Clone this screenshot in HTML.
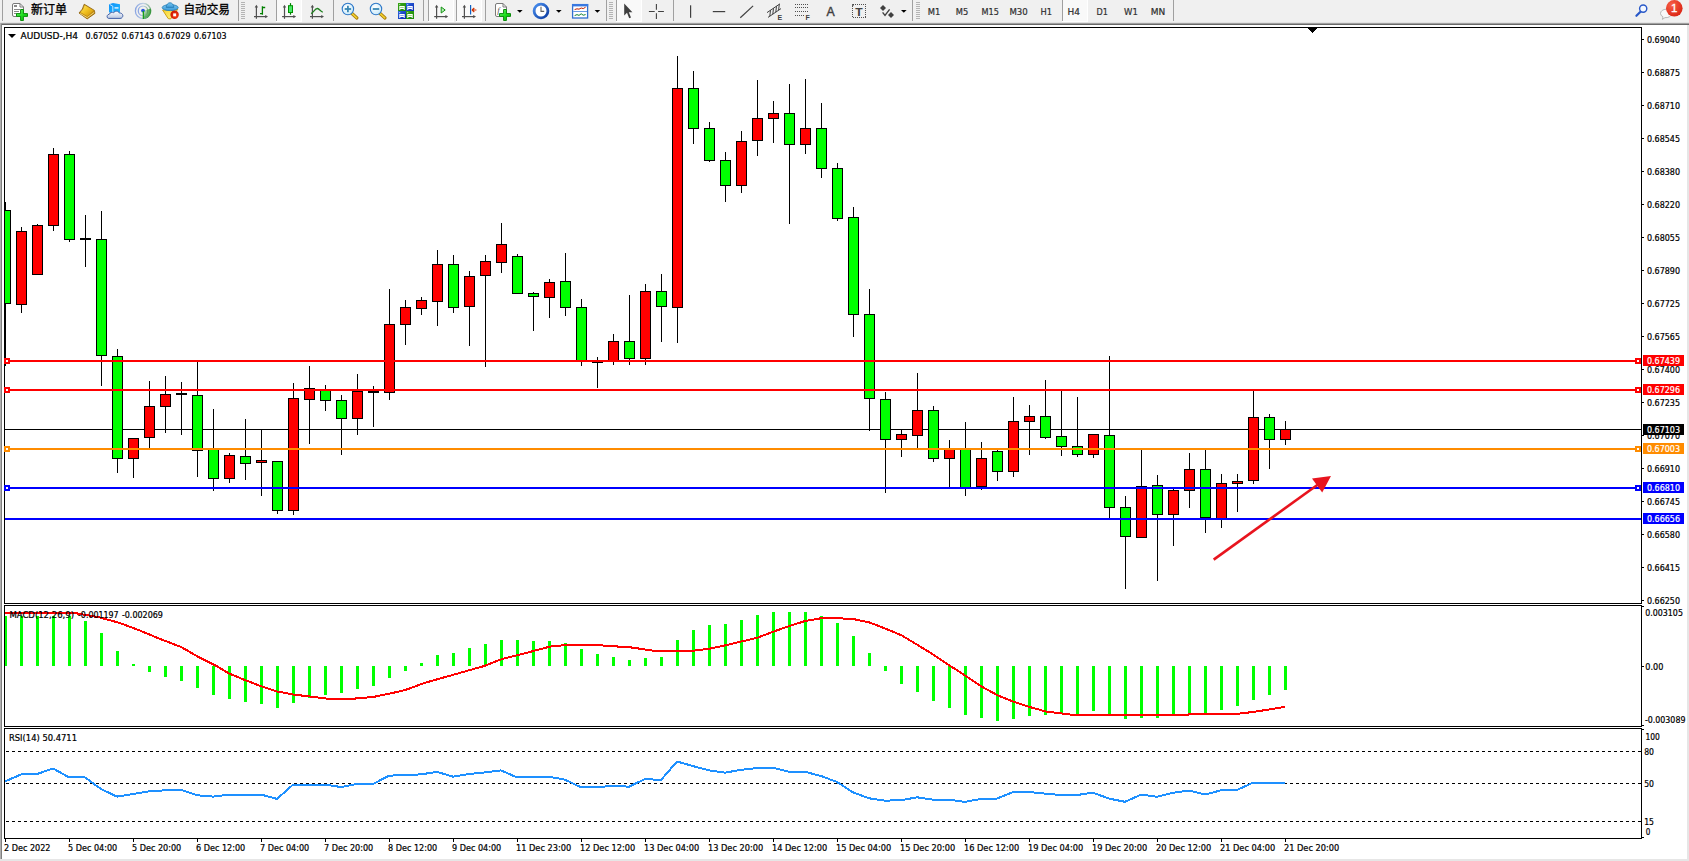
<!DOCTYPE html>
<html lang="zh-CN"><head><meta charset="utf-8"><title>AUDUSD-,H4</title>
<style>
html,body{margin:0;padding:0;background:#fff;width:1689px;height:861px;overflow:hidden}
svg{display:block;position:absolute;left:0;top:0}
text{white-space:pre}
</style></head><body>
<svg width="1689" height="861" viewBox="0 0 1689 861">
<g id="frame" shape-rendering="crispEdges">
<rect x="0" y="0" width="1689" height="861" fill="#fff"/>
<rect x="0" y="0" width="1689" height="23" fill="#f0f0f0"/>
<rect x="0" y="22" width="1689" height="1" fill="#e3e3e3"/>
<rect x="0" y="23" width="1689" height="1" fill="#a0a0a0"/>
<rect x="0" y="24" width="1689" height="1" fill="#696969"/>
<rect x="0" y="23" width="1" height="837" fill="#b0b0b0"/>
<rect x="1" y="24" width="1" height="836" fill="#808080"/>
<rect x="1687" y="25" width="2" height="836" fill="#e6e6e6"/>
<rect x="0" y="859" width="1689" height="2" fill="#e6e6e6"/>
</g>
<g id="panels" shape-rendering="crispEdges">
<rect x="4" y="27" width="1638" height="1" fill="#000"/>
<rect x="4" y="27" width="1" height="577" fill="#000"/>
<rect x="4" y="603" width="1638" height="1" fill="#000"/>
<rect x="1641" y="27" width="1" height="577" fill="#000"/>
<rect x="4" y="605" width="1638" height="1" fill="#000"/>
<rect x="4" y="605" width="1" height="122" fill="#000"/>
<rect x="4" y="726" width="1638" height="1" fill="#000"/>
<rect x="1641" y="605" width="1" height="122" fill="#000"/>
<rect x="4" y="728" width="1638" height="1" fill="#000"/>
<rect x="4" y="728" width="1" height="111" fill="#000"/>
<rect x="4" y="838" width="1638" height="1" fill="#000"/>
<rect x="1641" y="728" width="1" height="111" fill="#000"/>
</g>
<g id="main" shape-rendering="crispEdges">
<polygon points="1308,28 1317,28 1312.5,33" fill="#000"/>
<rect x="5" y="429" width="1636" height="1" fill="#000"/>
<rect x="5" y="202" width="1" height="164" fill="#000"/>
<rect x="5" y="210" width="6" height="94" fill="#000"/>
<rect x="5" y="211" width="5" height="92" fill="#00ff00"/>
<rect x="21" y="227" width="1" height="86" fill="#000"/>
<rect x="16" y="231" width="11" height="74" fill="#000"/>
<rect x="17" y="232" width="9" height="72" fill="#ff0000"/>
<rect x="37" y="224" width="1" height="51" fill="#000"/>
<rect x="32" y="225" width="11" height="50" fill="#000"/>
<rect x="33" y="226" width="9" height="48" fill="#ff0000"/>
<rect x="53" y="148" width="1" height="83" fill="#000"/>
<rect x="48" y="154" width="11" height="72" fill="#000"/>
<rect x="49" y="155" width="9" height="70" fill="#ff0000"/>
<rect x="69" y="151" width="1" height="91" fill="#000"/>
<rect x="64" y="154" width="11" height="86" fill="#000"/>
<rect x="65" y="155" width="9" height="84" fill="#00ff00"/>
<rect x="85" y="215" width="1" height="52" fill="#000"/>
<rect x="80" y="238" width="11" height="2" fill="#000"/>
<rect x="101" y="211" width="1" height="175" fill="#000"/>
<rect x="96" y="239" width="11" height="117" fill="#000"/>
<rect x="97" y="240" width="9" height="115" fill="#00ff00"/>
<rect x="117" y="349" width="1" height="124" fill="#000"/>
<rect x="112" y="356" width="11" height="103" fill="#000"/>
<rect x="113" y="357" width="9" height="101" fill="#00ff00"/>
<rect x="133" y="438" width="1" height="40" fill="#000"/>
<rect x="128" y="438" width="11" height="21" fill="#000"/>
<rect x="129" y="439" width="9" height="19" fill="#ff0000"/>
<rect x="149" y="381" width="1" height="67" fill="#000"/>
<rect x="144" y="406" width="11" height="32" fill="#000"/>
<rect x="145" y="407" width="9" height="30" fill="#ff0000"/>
<rect x="165" y="376" width="1" height="57" fill="#000"/>
<rect x="160" y="394" width="11" height="13" fill="#000"/>
<rect x="161" y="395" width="9" height="11" fill="#ff0000"/>
<rect x="181" y="382" width="1" height="53" fill="#000"/>
<rect x="176" y="393" width="11" height="2" fill="#000"/>
<rect x="197" y="362" width="1" height="115" fill="#000"/>
<rect x="192" y="395" width="11" height="56" fill="#000"/>
<rect x="193" y="396" width="9" height="54" fill="#00ff00"/>
<rect x="213" y="409" width="1" height="82" fill="#000"/>
<rect x="208" y="449" width="11" height="30" fill="#000"/>
<rect x="209" y="450" width="9" height="28" fill="#00ff00"/>
<rect x="229" y="453" width="1" height="30" fill="#000"/>
<rect x="224" y="455" width="11" height="24" fill="#000"/>
<rect x="225" y="456" width="9" height="22" fill="#ff0000"/>
<rect x="245" y="419" width="1" height="61" fill="#000"/>
<rect x="240" y="456" width="11" height="8" fill="#000"/>
<rect x="241" y="457" width="9" height="6" fill="#00ff00"/>
<rect x="261" y="430" width="1" height="66" fill="#000"/>
<rect x="256" y="460" width="11" height="3" fill="#000"/>
<rect x="257" y="461" width="9" height="1" fill="#ff0000"/>
<rect x="277" y="461" width="1" height="53" fill="#000"/>
<rect x="272" y="461" width="11" height="50" fill="#000"/>
<rect x="273" y="462" width="9" height="48" fill="#00ff00"/>
<rect x="293" y="383" width="1" height="132" fill="#000"/>
<rect x="288" y="398" width="11" height="113" fill="#000"/>
<rect x="289" y="399" width="9" height="111" fill="#ff0000"/>
<rect x="309" y="366" width="1" height="78" fill="#000"/>
<rect x="304" y="388" width="11" height="12" fill="#000"/>
<rect x="305" y="389" width="9" height="10" fill="#ff0000"/>
<rect x="325" y="385" width="1" height="26" fill="#000"/>
<rect x="320" y="390" width="11" height="11" fill="#000"/>
<rect x="321" y="391" width="9" height="9" fill="#00ff00"/>
<rect x="341" y="395" width="1" height="60" fill="#000"/>
<rect x="336" y="400" width="11" height="19" fill="#000"/>
<rect x="337" y="401" width="9" height="17" fill="#00ff00"/>
<rect x="357" y="374" width="1" height="61" fill="#000"/>
<rect x="352" y="391" width="11" height="28" fill="#000"/>
<rect x="353" y="392" width="9" height="26" fill="#ff0000"/>
<rect x="373" y="386" width="1" height="41" fill="#000"/>
<rect x="368" y="391" width="11" height="2" fill="#000"/>
<rect x="389" y="289" width="1" height="111" fill="#000"/>
<rect x="384" y="324" width="11" height="69" fill="#000"/>
<rect x="385" y="325" width="9" height="67" fill="#ff0000"/>
<rect x="405" y="300" width="1" height="45" fill="#000"/>
<rect x="400" y="307" width="11" height="18" fill="#000"/>
<rect x="401" y="308" width="9" height="16" fill="#ff0000"/>
<rect x="421" y="297" width="1" height="18" fill="#000"/>
<rect x="416" y="300" width="11" height="9" fill="#000"/>
<rect x="417" y="301" width="9" height="7" fill="#ff0000"/>
<rect x="437" y="250" width="1" height="76" fill="#000"/>
<rect x="432" y="264" width="11" height="38" fill="#000"/>
<rect x="433" y="265" width="9" height="36" fill="#ff0000"/>
<rect x="453" y="255" width="1" height="58" fill="#000"/>
<rect x="448" y="264" width="11" height="44" fill="#000"/>
<rect x="449" y="265" width="9" height="42" fill="#00ff00"/>
<rect x="469" y="271" width="1" height="75" fill="#000"/>
<rect x="464" y="276" width="11" height="31" fill="#000"/>
<rect x="465" y="277" width="9" height="29" fill="#ff0000"/>
<rect x="485" y="255" width="1" height="112" fill="#000"/>
<rect x="480" y="261" width="11" height="15" fill="#000"/>
<rect x="481" y="262" width="9" height="13" fill="#ff0000"/>
<rect x="501" y="223" width="1" height="50" fill="#000"/>
<rect x="496" y="244" width="11" height="19" fill="#000"/>
<rect x="497" y="245" width="9" height="17" fill="#ff0000"/>
<rect x="517" y="254" width="1" height="40" fill="#000"/>
<rect x="512" y="256" width="11" height="38" fill="#000"/>
<rect x="513" y="257" width="9" height="36" fill="#00ff00"/>
<rect x="533" y="292" width="1" height="39" fill="#000"/>
<rect x="528" y="293" width="11" height="4" fill="#000"/>
<rect x="529" y="294" width="9" height="2" fill="#00ff00"/>
<rect x="549" y="279" width="1" height="39" fill="#000"/>
<rect x="544" y="282" width="11" height="16" fill="#000"/>
<rect x="545" y="283" width="9" height="14" fill="#ff0000"/>
<rect x="565" y="253" width="1" height="63" fill="#000"/>
<rect x="560" y="281" width="11" height="27" fill="#000"/>
<rect x="561" y="282" width="9" height="25" fill="#00ff00"/>
<rect x="581" y="299" width="1" height="67" fill="#000"/>
<rect x="576" y="307" width="11" height="54" fill="#000"/>
<rect x="577" y="308" width="9" height="52" fill="#00ff00"/>
<rect x="597" y="357" width="1" height="31" fill="#000"/>
<rect x="592" y="362" width="11" height="1" fill="#000"/>
<rect x="613" y="334" width="1" height="31" fill="#000"/>
<rect x="608" y="341" width="11" height="20" fill="#000"/>
<rect x="609" y="342" width="9" height="18" fill="#ff0000"/>
<rect x="629" y="295" width="1" height="70" fill="#000"/>
<rect x="624" y="341" width="11" height="18" fill="#000"/>
<rect x="625" y="342" width="9" height="16" fill="#00ff00"/>
<rect x="645" y="284" width="1" height="81" fill="#000"/>
<rect x="640" y="291" width="11" height="68" fill="#000"/>
<rect x="641" y="292" width="9" height="66" fill="#ff0000"/>
<rect x="661" y="274" width="1" height="68" fill="#000"/>
<rect x="656" y="291" width="11" height="16" fill="#000"/>
<rect x="657" y="292" width="9" height="14" fill="#00ff00"/>
<rect x="677" y="56" width="1" height="287" fill="#000"/>
<rect x="672" y="88" width="11" height="220" fill="#000"/>
<rect x="673" y="89" width="9" height="218" fill="#ff0000"/>
<rect x="693" y="71" width="1" height="73" fill="#000"/>
<rect x="688" y="88" width="11" height="41" fill="#000"/>
<rect x="689" y="89" width="9" height="39" fill="#00ff00"/>
<rect x="709" y="122" width="1" height="40" fill="#000"/>
<rect x="704" y="128" width="11" height="33" fill="#000"/>
<rect x="705" y="129" width="9" height="31" fill="#00ff00"/>
<rect x="725" y="152" width="1" height="50" fill="#000"/>
<rect x="720" y="160" width="11" height="26" fill="#000"/>
<rect x="721" y="161" width="9" height="24" fill="#00ff00"/>
<rect x="741" y="131" width="1" height="62" fill="#000"/>
<rect x="736" y="141" width="11" height="45" fill="#000"/>
<rect x="737" y="142" width="9" height="43" fill="#ff0000"/>
<rect x="757" y="80" width="1" height="76" fill="#000"/>
<rect x="752" y="118" width="11" height="23" fill="#000"/>
<rect x="753" y="119" width="9" height="21" fill="#ff0000"/>
<rect x="773" y="101" width="1" height="42" fill="#000"/>
<rect x="768" y="113" width="11" height="6" fill="#000"/>
<rect x="769" y="114" width="9" height="4" fill="#ff0000"/>
<rect x="789" y="84" width="1" height="140" fill="#000"/>
<rect x="784" y="113" width="11" height="32" fill="#000"/>
<rect x="785" y="114" width="9" height="30" fill="#00ff00"/>
<rect x="805" y="79" width="1" height="75" fill="#000"/>
<rect x="800" y="128" width="11" height="17" fill="#000"/>
<rect x="801" y="129" width="9" height="15" fill="#ff0000"/>
<rect x="821" y="103" width="1" height="75" fill="#000"/>
<rect x="816" y="128" width="11" height="41" fill="#000"/>
<rect x="817" y="129" width="9" height="39" fill="#00ff00"/>
<rect x="837" y="163" width="1" height="58" fill="#000"/>
<rect x="832" y="168" width="11" height="51" fill="#000"/>
<rect x="833" y="169" width="9" height="49" fill="#00ff00"/>
<rect x="853" y="207" width="1" height="130" fill="#000"/>
<rect x="848" y="217" width="11" height="98" fill="#000"/>
<rect x="849" y="218" width="9" height="96" fill="#00ff00"/>
<rect x="869" y="289" width="1" height="142" fill="#000"/>
<rect x="864" y="314" width="11" height="85" fill="#000"/>
<rect x="865" y="315" width="9" height="83" fill="#00ff00"/>
<rect x="885" y="392" width="1" height="101" fill="#000"/>
<rect x="880" y="399" width="11" height="41" fill="#000"/>
<rect x="881" y="400" width="9" height="39" fill="#00ff00"/>
<rect x="901" y="430" width="1" height="27" fill="#000"/>
<rect x="896" y="434" width="11" height="6" fill="#000"/>
<rect x="897" y="435" width="9" height="4" fill="#ff0000"/>
<rect x="917" y="373" width="1" height="75" fill="#000"/>
<rect x="912" y="410" width="11" height="26" fill="#000"/>
<rect x="913" y="411" width="9" height="24" fill="#ff0000"/>
<rect x="933" y="406" width="1" height="56" fill="#000"/>
<rect x="928" y="410" width="11" height="49" fill="#000"/>
<rect x="929" y="411" width="9" height="47" fill="#00ff00"/>
<rect x="949" y="440" width="1" height="47" fill="#000"/>
<rect x="944" y="449" width="11" height="10" fill="#000"/>
<rect x="945" y="450" width="9" height="8" fill="#ff0000"/>
<rect x="965" y="422" width="1" height="74" fill="#000"/>
<rect x="960" y="448" width="11" height="40" fill="#000"/>
<rect x="961" y="449" width="9" height="38" fill="#00ff00"/>
<rect x="981" y="442" width="1" height="48" fill="#000"/>
<rect x="976" y="458" width="11" height="29" fill="#000"/>
<rect x="977" y="459" width="9" height="27" fill="#ff0000"/>
<rect x="997" y="450" width="1" height="31" fill="#000"/>
<rect x="992" y="451" width="11" height="21" fill="#000"/>
<rect x="993" y="452" width="9" height="19" fill="#00ff00"/>
<rect x="1013" y="397" width="1" height="80" fill="#000"/>
<rect x="1008" y="421" width="11" height="51" fill="#000"/>
<rect x="1009" y="422" width="9" height="49" fill="#ff0000"/>
<rect x="1029" y="405" width="1" height="50" fill="#000"/>
<rect x="1024" y="416" width="11" height="6" fill="#000"/>
<rect x="1025" y="417" width="9" height="4" fill="#ff0000"/>
<rect x="1045" y="380" width="1" height="59" fill="#000"/>
<rect x="1040" y="416" width="11" height="22" fill="#000"/>
<rect x="1041" y="417" width="9" height="20" fill="#00ff00"/>
<rect x="1061" y="391" width="1" height="65" fill="#000"/>
<rect x="1056" y="436" width="11" height="11" fill="#000"/>
<rect x="1057" y="437" width="9" height="9" fill="#00ff00"/>
<rect x="1077" y="397" width="1" height="60" fill="#000"/>
<rect x="1072" y="446" width="11" height="9" fill="#000"/>
<rect x="1073" y="447" width="9" height="7" fill="#00ff00"/>
<rect x="1093" y="434" width="1" height="24" fill="#000"/>
<rect x="1088" y="434" width="11" height="21" fill="#000"/>
<rect x="1089" y="435" width="9" height="19" fill="#ff0000"/>
<rect x="1109" y="356" width="1" height="162" fill="#000"/>
<rect x="1104" y="435" width="11" height="73" fill="#000"/>
<rect x="1105" y="436" width="9" height="71" fill="#00ff00"/>
<rect x="1125" y="496" width="1" height="93" fill="#000"/>
<rect x="1120" y="507" width="11" height="30" fill="#000"/>
<rect x="1121" y="508" width="9" height="28" fill="#00ff00"/>
<rect x="1141" y="450" width="1" height="88" fill="#000"/>
<rect x="1136" y="486" width="11" height="52" fill="#000"/>
<rect x="1137" y="487" width="9" height="50" fill="#ff0000"/>
<rect x="1157" y="475" width="1" height="106" fill="#000"/>
<rect x="1152" y="485" width="11" height="30" fill="#000"/>
<rect x="1153" y="486" width="9" height="28" fill="#00ff00"/>
<rect x="1173" y="489" width="1" height="57" fill="#000"/>
<rect x="1168" y="490" width="11" height="25" fill="#000"/>
<rect x="1169" y="491" width="9" height="23" fill="#ff0000"/>
<rect x="1189" y="453" width="1" height="55" fill="#000"/>
<rect x="1184" y="469" width="11" height="22" fill="#000"/>
<rect x="1185" y="470" width="9" height="20" fill="#ff0000"/>
<rect x="1205" y="450" width="1" height="83" fill="#000"/>
<rect x="1200" y="469" width="11" height="49" fill="#000"/>
<rect x="1201" y="470" width="9" height="47" fill="#00ff00"/>
<rect x="1221" y="474" width="1" height="54" fill="#000"/>
<rect x="1216" y="483" width="11" height="36" fill="#000"/>
<rect x="1217" y="484" width="9" height="34" fill="#ff0000"/>
<rect x="1237" y="474" width="1" height="38" fill="#000"/>
<rect x="1232" y="481" width="11" height="3" fill="#000"/>
<rect x="1233" y="482" width="9" height="1" fill="#ff0000"/>
<rect x="1253" y="391" width="1" height="93" fill="#000"/>
<rect x="1248" y="417" width="11" height="64" fill="#000"/>
<rect x="1249" y="418" width="9" height="62" fill="#ff0000"/>
<rect x="1269" y="414" width="1" height="55" fill="#000"/>
<rect x="1264" y="417" width="11" height="23" fill="#000"/>
<rect x="1265" y="418" width="9" height="21" fill="#00ff00"/>
<rect x="1285" y="421" width="1" height="24" fill="#000"/>
<rect x="1280" y="429" width="11" height="11" fill="#000"/>
<rect x="1281" y="430" width="9" height="9" fill="#ff0000"/>
</g>
<g id="hlines" shape-rendering="crispEdges">
<rect x="5" y="360" width="1636" height="2" fill="#ff0000"/>
<rect x="4" y="358" width="6" height="6" fill="#ff0000"/>
<rect x="6" y="360" width="2" height="2" fill="#fff"/>
<rect x="1635" y="358" width="6" height="6" fill="#ff0000"/>
<rect x="1637" y="360" width="2" height="2" fill="#fff"/>
<rect x="5" y="389" width="1636" height="2" fill="#ff0000"/>
<rect x="4" y="387" width="6" height="6" fill="#ff0000"/>
<rect x="6" y="389" width="2" height="2" fill="#fff"/>
<rect x="1635" y="387" width="6" height="6" fill="#ff0000"/>
<rect x="1637" y="389" width="2" height="2" fill="#fff"/>
<rect x="5" y="448" width="1636" height="2" fill="#ff8c00"/>
<rect x="4" y="446" width="6" height="6" fill="#ff8c00"/>
<rect x="6" y="448" width="2" height="2" fill="#fff"/>
<rect x="1635" y="446" width="6" height="6" fill="#ff8c00"/>
<rect x="1637" y="448" width="2" height="2" fill="#fff"/>
<rect x="5" y="487" width="1636" height="2" fill="#0000ff"/>
<rect x="4" y="485" width="6" height="6" fill="#0000ff"/>
<rect x="6" y="487" width="2" height="2" fill="#fff"/>
<rect x="1635" y="485" width="6" height="6" fill="#0000ff"/>
<rect x="1637" y="487" width="2" height="2" fill="#fff"/>
<rect x="5" y="518" width="1636" height="2" fill="#0000ff"/>
</g>
<g id="arrow"><line x1="1213.7" y1="559.6" x2="1318" y2="484.5" stroke="#e8141e" stroke-width="2.6"/><polygon points="1331,476 1312,478.6 1322.2,492.5" fill="#e8141e"/></g>
<g id="paxis" font-family="DejaVu Sans Condensed, Liberation Sans, sans-serif">
<rect x="1642" y="39" width="2" height="1" fill="#000" shape-rendering="crispEdges"/>
<text x="1647" y="43" font-size="9.4" fill="#000" stroke="#000" stroke-width="0.22" textLength="33" lengthAdjust="spacingAndGlyphs">0.69040</text>
<rect x="1642" y="72" width="2" height="1" fill="#000" shape-rendering="crispEdges"/>
<text x="1647" y="76" font-size="9.4" fill="#000" stroke="#000" stroke-width="0.22" textLength="33" lengthAdjust="spacingAndGlyphs">0.68875</text>
<rect x="1642" y="105" width="2" height="1" fill="#000" shape-rendering="crispEdges"/>
<text x="1647" y="109" font-size="9.4" fill="#000" stroke="#000" stroke-width="0.22" textLength="33" lengthAdjust="spacingAndGlyphs">0.68710</text>
<rect x="1642" y="138" width="2" height="1" fill="#000" shape-rendering="crispEdges"/>
<text x="1647" y="142" font-size="9.4" fill="#000" stroke="#000" stroke-width="0.22" textLength="33" lengthAdjust="spacingAndGlyphs">0.68545</text>
<rect x="1642" y="171" width="2" height="1" fill="#000" shape-rendering="crispEdges"/>
<text x="1647" y="175" font-size="9.4" fill="#000" stroke="#000" stroke-width="0.22" textLength="33" lengthAdjust="spacingAndGlyphs">0.68380</text>
<rect x="1642" y="204" width="2" height="1" fill="#000" shape-rendering="crispEdges"/>
<text x="1647" y="208" font-size="9.4" fill="#000" stroke="#000" stroke-width="0.22" textLength="33" lengthAdjust="spacingAndGlyphs">0.68220</text>
<rect x="1642" y="237" width="2" height="1" fill="#000" shape-rendering="crispEdges"/>
<text x="1647" y="241" font-size="9.4" fill="#000" stroke="#000" stroke-width="0.22" textLength="33" lengthAdjust="spacingAndGlyphs">0.68055</text>
<rect x="1642" y="270" width="2" height="1" fill="#000" shape-rendering="crispEdges"/>
<text x="1647" y="274" font-size="9.4" fill="#000" stroke="#000" stroke-width="0.22" textLength="33" lengthAdjust="spacingAndGlyphs">0.67890</text>
<rect x="1642" y="303" width="2" height="1" fill="#000" shape-rendering="crispEdges"/>
<text x="1647" y="307" font-size="9.4" fill="#000" stroke="#000" stroke-width="0.22" textLength="33" lengthAdjust="spacingAndGlyphs">0.67725</text>
<rect x="1642" y="336" width="2" height="1" fill="#000" shape-rendering="crispEdges"/>
<text x="1647" y="340" font-size="9.4" fill="#000" stroke="#000" stroke-width="0.22" textLength="33" lengthAdjust="spacingAndGlyphs">0.67565</text>
<rect x="1642" y="369" width="2" height="1" fill="#000" shape-rendering="crispEdges"/>
<text x="1647" y="373" font-size="9.4" fill="#000" stroke="#000" stroke-width="0.22" textLength="33" lengthAdjust="spacingAndGlyphs">0.67400</text>
<rect x="1642" y="402" width="2" height="1" fill="#000" shape-rendering="crispEdges"/>
<text x="1647" y="406" font-size="9.4" fill="#000" stroke="#000" stroke-width="0.22" textLength="33" lengthAdjust="spacingAndGlyphs">0.67235</text>
<rect x="1642" y="435" width="2" height="1" fill="#000" shape-rendering="crispEdges"/>
<text x="1647" y="439" font-size="9.4" fill="#000" stroke="#000" stroke-width="0.22" textLength="33" lengthAdjust="spacingAndGlyphs">0.67070</text>
<rect x="1642" y="468" width="2" height="1" fill="#000" shape-rendering="crispEdges"/>
<text x="1647" y="472" font-size="9.4" fill="#000" stroke="#000" stroke-width="0.22" textLength="33" lengthAdjust="spacingAndGlyphs">0.66910</text>
<rect x="1642" y="501" width="2" height="1" fill="#000" shape-rendering="crispEdges"/>
<text x="1647" y="505" font-size="9.4" fill="#000" stroke="#000" stroke-width="0.22" textLength="33" lengthAdjust="spacingAndGlyphs">0.66745</text>
<rect x="1642" y="534" width="2" height="1" fill="#000" shape-rendering="crispEdges"/>
<text x="1647" y="538" font-size="9.4" fill="#000" stroke="#000" stroke-width="0.22" textLength="33" lengthAdjust="spacingAndGlyphs">0.66580</text>
<rect x="1642" y="567" width="2" height="1" fill="#000" shape-rendering="crispEdges"/>
<text x="1647" y="571" font-size="9.4" fill="#000" stroke="#000" stroke-width="0.22" textLength="33" lengthAdjust="spacingAndGlyphs">0.66415</text>
<rect x="1642" y="600" width="2" height="1" fill="#000" shape-rendering="crispEdges"/>
<text x="1647" y="604" font-size="9.4" fill="#000" stroke="#000" stroke-width="0.22" textLength="33" lengthAdjust="spacingAndGlyphs">0.66250</text>
<rect x="1643" y="355" width="41" height="11" fill="#ff0000" shape-rendering="crispEdges"/>
<text x="1647" y="364" font-size="9.4" fill="#fff" stroke="#fff" stroke-width="0.22" textLength="33" lengthAdjust="spacingAndGlyphs">0.67439</text>
<rect x="1643" y="384" width="41" height="11" fill="#ff0000" shape-rendering="crispEdges"/>
<text x="1647" y="393" font-size="9.4" fill="#fff" stroke="#fff" stroke-width="0.22" textLength="33" lengthAdjust="spacingAndGlyphs">0.67296</text>
<rect x="1643" y="424" width="41" height="11" fill="#000" shape-rendering="crispEdges"/>
<text x="1647" y="433" font-size="9.4" fill="#fff" stroke="#fff" stroke-width="0.22" textLength="33" lengthAdjust="spacingAndGlyphs">0.67103</text>
<rect x="1643" y="443" width="41" height="11" fill="#ff8c00" shape-rendering="crispEdges"/>
<text x="1647" y="452" font-size="9.4" fill="#fff" stroke="#fff" stroke-width="0.22" textLength="33" lengthAdjust="spacingAndGlyphs">0.67003</text>
<rect x="1643" y="482" width="41" height="11" fill="#0000ff" shape-rendering="crispEdges"/>
<text x="1647" y="491" font-size="9.4" fill="#fff" stroke="#fff" stroke-width="0.22" textLength="33" lengthAdjust="spacingAndGlyphs">0.66810</text>
<rect x="1643" y="513" width="41" height="11" fill="#0000ff" shape-rendering="crispEdges"/>
<text x="1647" y="522" font-size="9.4" fill="#fff" stroke="#fff" stroke-width="0.22" textLength="33" lengthAdjust="spacingAndGlyphs">0.66656</text>
</g>
<g id="labels" font-family="DejaVu Sans Condensed, Liberation Sans, sans-serif">
<polygon points="8,34 16,34 12,38" fill="#000"/>
<text x="20.5" y="39" font-size="9.4" fill="#000" stroke="#000" stroke-width="0.22" textLength="57.5" lengthAdjust="spacingAndGlyphs">AUDUSD-,H4</text>
<text x="85.4" y="39" font-size="9.4" fill="#000" stroke="#000" stroke-width="0.22" textLength="32.6" lengthAdjust="spacingAndGlyphs">0.67052</text>
<text x="121.6" y="39" font-size="9.4" fill="#000" stroke="#000" stroke-width="0.22" textLength="32.6" lengthAdjust="spacingAndGlyphs">0.67143</text>
<text x="157.8" y="39" font-size="9.4" fill="#000" stroke="#000" stroke-width="0.22" textLength="32.6" lengthAdjust="spacingAndGlyphs">0.67029</text>
<text x="194" y="39" font-size="9.4" fill="#000" stroke="#000" stroke-width="0.22" textLength="32.6" lengthAdjust="spacingAndGlyphs">0.67103</text>
</g>
<g id="macd" shape-rendering="crispEdges">
<rect x="5" y="616" width="2" height="50" fill="#00ff00"/>
<rect x="20" y="616" width="3" height="50" fill="#00ff00"/>
<rect x="36" y="616" width="3" height="50" fill="#00ff00"/>
<rect x="52" y="616" width="3" height="50" fill="#00ff00"/>
<rect x="68" y="616" width="3" height="50" fill="#00ff00"/>
<rect x="84" y="621" width="3" height="45" fill="#00ff00"/>
<rect x="100" y="633" width="3" height="33" fill="#00ff00"/>
<rect x="116" y="651" width="3" height="15" fill="#00ff00"/>
<rect x="132" y="664" width="3" height="2" fill="#00ff00"/>
<rect x="148" y="666" width="3" height="6" fill="#00ff00"/>
<rect x="164" y="666" width="3" height="11" fill="#00ff00"/>
<rect x="180" y="666" width="3" height="15" fill="#00ff00"/>
<rect x="196" y="666" width="3" height="22" fill="#00ff00"/>
<rect x="212" y="666" width="3" height="29" fill="#00ff00"/>
<rect x="228" y="666" width="3" height="33" fill="#00ff00"/>
<rect x="244" y="666" width="3" height="36" fill="#00ff00"/>
<rect x="260" y="666" width="3" height="38" fill="#00ff00"/>
<rect x="276" y="666" width="3" height="42" fill="#00ff00"/>
<rect x="292" y="666" width="3" height="37" fill="#00ff00"/>
<rect x="308" y="666" width="3" height="32" fill="#00ff00"/>
<rect x="324" y="666" width="3" height="29" fill="#00ff00"/>
<rect x="340" y="666" width="3" height="27" fill="#00ff00"/>
<rect x="356" y="666" width="3" height="23" fill="#00ff00"/>
<rect x="372" y="666" width="3" height="20" fill="#00ff00"/>
<rect x="388" y="666" width="3" height="12" fill="#00ff00"/>
<rect x="404" y="666" width="3" height="5" fill="#00ff00"/>
<rect x="420" y="663" width="3" height="3" fill="#00ff00"/>
<rect x="436" y="655" width="3" height="11" fill="#00ff00"/>
<rect x="452" y="653" width="3" height="13" fill="#00ff00"/>
<rect x="468" y="648" width="3" height="18" fill="#00ff00"/>
<rect x="484" y="644" width="3" height="22" fill="#00ff00"/>
<rect x="500" y="640" width="3" height="26" fill="#00ff00"/>
<rect x="516" y="640" width="3" height="26" fill="#00ff00"/>
<rect x="532" y="641" width="3" height="25" fill="#00ff00"/>
<rect x="548" y="641" width="3" height="25" fill="#00ff00"/>
<rect x="564" y="643" width="3" height="23" fill="#00ff00"/>
<rect x="580" y="649" width="3" height="17" fill="#00ff00"/>
<rect x="596" y="654" width="3" height="12" fill="#00ff00"/>
<rect x="612" y="657" width="3" height="9" fill="#00ff00"/>
<rect x="628" y="660" width="3" height="6" fill="#00ff00"/>
<rect x="644" y="658" width="3" height="8" fill="#00ff00"/>
<rect x="660" y="657" width="3" height="9" fill="#00ff00"/>
<rect x="676" y="640" width="3" height="26" fill="#00ff00"/>
<rect x="692" y="630" width="3" height="36" fill="#00ff00"/>
<rect x="708" y="625" width="3" height="41" fill="#00ff00"/>
<rect x="724" y="624" width="3" height="42" fill="#00ff00"/>
<rect x="740" y="620" width="3" height="46" fill="#00ff00"/>
<rect x="756" y="615" width="3" height="51" fill="#00ff00"/>
<rect x="772" y="612" width="3" height="54" fill="#00ff00"/>
<rect x="788" y="612" width="3" height="54" fill="#00ff00"/>
<rect x="804" y="612" width="3" height="54" fill="#00ff00"/>
<rect x="820" y="616" width="3" height="50" fill="#00ff00"/>
<rect x="836" y="623" width="3" height="43" fill="#00ff00"/>
<rect x="852" y="636" width="3" height="30" fill="#00ff00"/>
<rect x="868" y="653" width="3" height="13" fill="#00ff00"/>
<rect x="884" y="666" width="3" height="5" fill="#00ff00"/>
<rect x="900" y="666" width="3" height="18" fill="#00ff00"/>
<rect x="916" y="666" width="3" height="26" fill="#00ff00"/>
<rect x="932" y="666" width="3" height="35" fill="#00ff00"/>
<rect x="948" y="666" width="3" height="42" fill="#00ff00"/>
<rect x="964" y="666" width="3" height="49" fill="#00ff00"/>
<rect x="980" y="666" width="3" height="52" fill="#00ff00"/>
<rect x="996" y="666" width="3" height="55" fill="#00ff00"/>
<rect x="1012" y="666" width="3" height="53" fill="#00ff00"/>
<rect x="1028" y="666" width="3" height="50" fill="#00ff00"/>
<rect x="1044" y="666" width="3" height="49" fill="#00ff00"/>
<rect x="1060" y="666" width="3" height="48" fill="#00ff00"/>
<rect x="1076" y="666" width="3" height="49" fill="#00ff00"/>
<rect x="1092" y="666" width="3" height="45" fill="#00ff00"/>
<rect x="1108" y="666" width="3" height="49" fill="#00ff00"/>
<rect x="1124" y="666" width="3" height="53" fill="#00ff00"/>
<rect x="1140" y="666" width="3" height="52" fill="#00ff00"/>
<rect x="1156" y="666" width="3" height="52" fill="#00ff00"/>
<rect x="1172" y="666" width="3" height="49" fill="#00ff00"/>
<rect x="1188" y="666" width="3" height="47" fill="#00ff00"/>
<rect x="1204" y="666" width="3" height="47" fill="#00ff00"/>
<rect x="1220" y="666" width="3" height="44" fill="#00ff00"/>
<rect x="1236" y="666" width="3" height="40" fill="#00ff00"/>
<rect x="1252" y="666" width="3" height="34" fill="#00ff00"/>
<rect x="1268" y="666" width="3" height="29" fill="#00ff00"/>
<rect x="1284" y="666" width="3" height="24" fill="#00ff00"/>
</g>
<polyline points="5,613.0 74.6,613.0 99.5,617.4 119.4,622.9 139.3,630.3 159.1,638.5 181.5,647.2 198.9,657.2 216.3,665.9 228.8,673.4 244.9,680 261.1,686.3 277.3,691.5 293.4,694.5 309.6,696.5 325.8,698.5 355.6,698.5 373,697 387.9,694 405.3,690 424.9,682.8 449.7,675.8 484.5,665.9 501.5,659.2 517.4,655.2 533.5,651 549.5,646.7 565.6,645 596.4,645 613.9,646.3 629.5,647.2 653.6,650.7 693.4,650.7 709.6,648.7 725.5,645.3 741.4,641.5 757.3,637.8 773.5,631.6 789.4,625.9 805.6,620.9 821.4,618.2 837.3,618.2 853.5,619.1 869.4,622.4 885.5,628.6 901.5,635.3 917.4,644.8 933.5,654.7 949.5,665.4 965.6,675.8 981.5,686.5 997.4,695.2 1013.4,701.7 1029.5,706.9 1045.4,711.4 1061.4,713.4 1071,714.6 1188,714.6 1191.7,713.9 1237,713.8 1253,712 1269.5,709.4 1285.4,706.8" fill="none" stroke="#ff0000" stroke-width="2" stroke-linejoin="round" shape-rendering="crispEdges"/>
<g font-family="DejaVu Sans Condensed, Liberation Sans, sans-serif">
<text x="9.4" y="618" font-size="9.4" fill="#000" stroke="#000" stroke-width="0.22" textLength="64.6" lengthAdjust="spacingAndGlyphs">MACD(12,26,9)</text>
<text x="78" y="618" font-size="9.4" fill="#000" stroke="#000" stroke-width="0.22" textLength="40.6" lengthAdjust="spacingAndGlyphs">-0.001197</text>
<text x="121.9" y="618" font-size="9.4" fill="#000" stroke="#000" stroke-width="0.22" textLength="41" lengthAdjust="spacingAndGlyphs">-0.002069</text>
<text x="1645.3" y="616" font-size="9.4" fill="#000" stroke="#000" stroke-width="0.22" textLength="37.6" lengthAdjust="spacingAndGlyphs">0.003105</text>
<text x="1645.3" y="670" font-size="9.4" fill="#000" stroke="#000" stroke-width="0.22" textLength="18" lengthAdjust="spacingAndGlyphs">0.00</text>
<text x="1645" y="723" font-size="9.4" fill="#000" stroke="#000" stroke-width="0.22" textLength="40.4" lengthAdjust="spacingAndGlyphs">-0.003089</text>
<rect x="1642" y="606" width="2" height="1" fill="#000" shape-rendering="crispEdges"/>
<rect x="1642" y="666" width="2" height="1" fill="#000" shape-rendering="crispEdges"/>
<rect x="1642" y="725" width="2" height="1" fill="#000" shape-rendering="crispEdges"/>
<rect x="1642" y="729" width="2" height="1" fill="#000" shape-rendering="crispEdges"/>
<rect x="1642" y="837" width="2" height="1" fill="#000" shape-rendering="crispEdges"/>
</g>
<g id="rsi">
<line x1="6" y1="751.5" x2="1641" y2="751.5" stroke="#000" stroke-width="1" stroke-dasharray="3,3" shape-rendering="crispEdges"/>
<line x1="6" y1="783.5" x2="1641" y2="783.5" stroke="#000" stroke-width="1" stroke-dasharray="3,3" shape-rendering="crispEdges"/>
<line x1="6" y1="821.5" x2="1641" y2="821.5" stroke="#000" stroke-width="1" stroke-dasharray="3,3" shape-rendering="crispEdges"/>
<polyline points="5,781.4 21,774.5 37,774.1 53,768.4 69,777.4 85,777.4 101,789 117,796.6 133,794 149,791.3 165,790.3 181,789.7 197,795.3 213,796.6 229,794.6 245,794.6 261,794.6 277,798.9 293,784.7 309,784.7 325,784.7 341,787 357,784 373,784 389,775.7 405,775 421,774.4 437,771.8 453,776.7 469,774 485,772.4 501,770.4 517,777.4 533,777.4 549,776.7 565,779.7 581,787.3 597,787.3 613,785.7 629,786.7 645,779.0 661,780.0 677,761.5 693,766.1 709,770.4 725,772.7 741,769.8 757,768.1 773,767.8 789,771.8 805,771.8 821,776 837,782 853,792.3 869,798.3 885,800.6 901,800.3 917,797.3 933,799.6 949,799.6 965,801.9 981,798.9 997,798.6 1013,792 1029,792 1045,793.6 1061,795 1077,795 1093,792.7 1109,798.6 1125,801.8 1141,794.6 1157,796.8 1173,792.8 1189,790.6 1205,794.6 1221,790.3 1237,789.9 1253,782.7 1269,783.4 1285,783.4" fill="none" stroke="#1e90ff" stroke-width="2" stroke-linejoin="round" shape-rendering="crispEdges"/>
<g font-family="DejaVu Sans Condensed, Liberation Sans, sans-serif">
<text x="9" y="741" font-size="9.4" fill="#000" stroke="#000" stroke-width="0.22" textLength="68" lengthAdjust="spacingAndGlyphs">RSI(14) 50.4711</text>
<text x="1645.5" y="740" font-size="9.4" fill="#000" stroke="#000" stroke-width="0.22" textLength="14.4" lengthAdjust="spacingAndGlyphs">100</text>
<text x="1644.2" y="755" font-size="9.4" fill="#000" stroke="#000" stroke-width="0.22" textLength="9.8" lengthAdjust="spacingAndGlyphs">80</text>
<text x="1644.2" y="787" font-size="9.4" fill="#000" stroke="#000" stroke-width="0.22" textLength="9.8" lengthAdjust="spacingAndGlyphs">50</text>
<text x="1644.2" y="825" font-size="9.4" fill="#000" stroke="#000" stroke-width="0.22" textLength="9.8" lengthAdjust="spacingAndGlyphs">15</text>
<text x="1645.7" y="835" font-size="9.4" fill="#000" stroke="#000" stroke-width="0.22" textLength="4.6" lengthAdjust="spacingAndGlyphs">0</text>
</g></g>
<g id="taxis" font-family="DejaVu Sans Condensed, Liberation Sans, sans-serif">
<rect x="5" y="839" width="1" height="3" fill="#000" shape-rendering="crispEdges"/>
<text x="4" y="851" font-size="9.4" fill="#000" stroke="#000" stroke-width="0.22" textLength="46.5" lengthAdjust="spacingAndGlyphs">2 Dec 2022</text>
<rect x="69" y="839" width="1" height="3" fill="#000" shape-rendering="crispEdges"/>
<text x="68" y="851" font-size="9.4" fill="#000" stroke="#000" stroke-width="0.22" textLength="49.2" lengthAdjust="spacingAndGlyphs">5 Dec 04:00</text>
<rect x="133" y="839" width="1" height="3" fill="#000" shape-rendering="crispEdges"/>
<text x="132" y="851" font-size="9.4" fill="#000" stroke="#000" stroke-width="0.22" textLength="49.2" lengthAdjust="spacingAndGlyphs">5 Dec 20:00</text>
<rect x="197" y="839" width="1" height="3" fill="#000" shape-rendering="crispEdges"/>
<text x="196" y="851" font-size="9.4" fill="#000" stroke="#000" stroke-width="0.22" textLength="49.2" lengthAdjust="spacingAndGlyphs">6 Dec 12:00</text>
<rect x="261" y="839" width="1" height="3" fill="#000" shape-rendering="crispEdges"/>
<text x="260" y="851" font-size="9.4" fill="#000" stroke="#000" stroke-width="0.22" textLength="49.2" lengthAdjust="spacingAndGlyphs">7 Dec 04:00</text>
<rect x="325" y="839" width="1" height="3" fill="#000" shape-rendering="crispEdges"/>
<text x="324" y="851" font-size="9.4" fill="#000" stroke="#000" stroke-width="0.22" textLength="49.2" lengthAdjust="spacingAndGlyphs">7 Dec 20:00</text>
<rect x="389" y="839" width="1" height="3" fill="#000" shape-rendering="crispEdges"/>
<text x="388" y="851" font-size="9.4" fill="#000" stroke="#000" stroke-width="0.22" textLength="49.2" lengthAdjust="spacingAndGlyphs">8 Dec 12:00</text>
<rect x="453" y="839" width="1" height="3" fill="#000" shape-rendering="crispEdges"/>
<text x="452" y="851" font-size="9.4" fill="#000" stroke="#000" stroke-width="0.22" textLength="49.2" lengthAdjust="spacingAndGlyphs">9 Dec 04:00</text>
<rect x="517" y="839" width="1" height="3" fill="#000" shape-rendering="crispEdges"/>
<text x="516" y="851" font-size="9.4" fill="#000" stroke="#000" stroke-width="0.22" textLength="55.2" lengthAdjust="spacingAndGlyphs">11 Dec 23:00</text>
<rect x="581" y="839" width="1" height="3" fill="#000" shape-rendering="crispEdges"/>
<text x="580" y="851" font-size="9.4" fill="#000" stroke="#000" stroke-width="0.22" textLength="55.2" lengthAdjust="spacingAndGlyphs">12 Dec 12:00</text>
<rect x="645" y="839" width="1" height="3" fill="#000" shape-rendering="crispEdges"/>
<text x="644" y="851" font-size="9.4" fill="#000" stroke="#000" stroke-width="0.22" textLength="55.2" lengthAdjust="spacingAndGlyphs">13 Dec 04:00</text>
<rect x="709" y="839" width="1" height="3" fill="#000" shape-rendering="crispEdges"/>
<text x="708" y="851" font-size="9.4" fill="#000" stroke="#000" stroke-width="0.22" textLength="55.2" lengthAdjust="spacingAndGlyphs">13 Dec 20:00</text>
<rect x="773" y="839" width="1" height="3" fill="#000" shape-rendering="crispEdges"/>
<text x="772" y="851" font-size="9.4" fill="#000" stroke="#000" stroke-width="0.22" textLength="55.2" lengthAdjust="spacingAndGlyphs">14 Dec 12:00</text>
<rect x="837" y="839" width="1" height="3" fill="#000" shape-rendering="crispEdges"/>
<text x="836" y="851" font-size="9.4" fill="#000" stroke="#000" stroke-width="0.22" textLength="55.2" lengthAdjust="spacingAndGlyphs">15 Dec 04:00</text>
<rect x="901" y="839" width="1" height="3" fill="#000" shape-rendering="crispEdges"/>
<text x="900" y="851" font-size="9.4" fill="#000" stroke="#000" stroke-width="0.22" textLength="55.2" lengthAdjust="spacingAndGlyphs">15 Dec 20:00</text>
<rect x="965" y="839" width="1" height="3" fill="#000" shape-rendering="crispEdges"/>
<text x="964" y="851" font-size="9.4" fill="#000" stroke="#000" stroke-width="0.22" textLength="55.2" lengthAdjust="spacingAndGlyphs">16 Dec 12:00</text>
<rect x="1029" y="839" width="1" height="3" fill="#000" shape-rendering="crispEdges"/>
<text x="1028" y="851" font-size="9.4" fill="#000" stroke="#000" stroke-width="0.22" textLength="55.2" lengthAdjust="spacingAndGlyphs">19 Dec 04:00</text>
<rect x="1093" y="839" width="1" height="3" fill="#000" shape-rendering="crispEdges"/>
<text x="1092" y="851" font-size="9.4" fill="#000" stroke="#000" stroke-width="0.22" textLength="55.2" lengthAdjust="spacingAndGlyphs">19 Dec 20:00</text>
<rect x="1157" y="839" width="1" height="3" fill="#000" shape-rendering="crispEdges"/>
<text x="1156" y="851" font-size="9.4" fill="#000" stroke="#000" stroke-width="0.22" textLength="55.2" lengthAdjust="spacingAndGlyphs">20 Dec 12:00</text>
<rect x="1221" y="839" width="1" height="3" fill="#000" shape-rendering="crispEdges"/>
<text x="1220" y="851" font-size="9.4" fill="#000" stroke="#000" stroke-width="0.22" textLength="55.2" lengthAdjust="spacingAndGlyphs">21 Dec 04:00</text>
<rect x="1285" y="839" width="1" height="3" fill="#000" shape-rendering="crispEdges"/>
<text x="1284" y="851" font-size="9.4" fill="#000" stroke="#000" stroke-width="0.22" textLength="55.2" lengthAdjust="spacingAndGlyphs">21 Dec 20:00</text>
</g>
<defs><linearGradient id="gplus" x1="0" y1="0" x2="1" y2="1"><stop offset="0" stop-color="#7dff7d"/><stop offset="0.5" stop-color="#1fe01f"/><stop offset="1" stop-color="#08b008"/></linearGradient><linearGradient id="gold" x1="0" y1="0" x2="1" y2="1"><stop offset="0" stop-color="#ffe860"/><stop offset="0.5" stop-color="#f0c020"/><stop offset="1" stop-color="#c88a08"/></linearGradient><linearGradient id="cloud" x1="0" y1="0" x2="0" y2="1"><stop offset="0" stop-color="#ffffff"/><stop offset="1" stop-color="#b8c6e0"/></linearGradient><linearGradient id="srv" x1="0" y1="0" x2="1" y2="1"><stop offset="0" stop-color="#1090f8"/><stop offset="1" stop-color="#20b8ff"/></linearGradient><linearGradient id="sig" x1="0" y1="0" x2="1" y2="0"><stop offset="0" stop-color="#3a6ad8"/><stop offset="0.55" stop-color="#9ab8d8"/><stop offset="1" stop-color="#3a8a48"/></linearGradient><radialGradient id="wedge" gradientUnits="userSpaceOnUse" cx="143" cy="10.9" r="8.2"><stop offset="0" stop-color="#60b860" stop-opacity="0.25"/><stop offset="1" stop-color="#209820" stop-opacity="0.95"/></radialGradient><linearGradient id="hat" x1="0" y1="0" x2="0" y2="1"><stop offset="0" stop-color="#7cc8f0"/><stop offset="1" stop-color="#3898d8"/></linearGradient><linearGradient id="face" x1="0" y1="0" x2="1" y2="1"><stop offset="0" stop-color="#f8d028"/><stop offset="1" stop-color="#fff890"/></linearGradient><radialGradient id="stop" cx="0.6" cy="0.6" r="0.7"><stop offset="0" stop-color="#ff4010"/><stop offset="1" stop-color="#c01000"/></radialGradient><radialGradient id="lens" cx="0.4" cy="0.35" r="0.8"><stop offset="0" stop-color="#ffffff"/><stop offset="1" stop-color="#bfe6fa"/></radialGradient><linearGradient id="clock" x1="0" y1="0" x2="1" y2="1"><stop offset="0" stop-color="#4a90f0"/><stop offset="1" stop-color="#0a3aa0"/></linearGradient><linearGradient id="tg" x1="0" y1="0" x2="1" y2="1"><stop offset="0" stop-color="#3aa818"/><stop offset="1" stop-color="#1a8808"/></linearGradient><linearGradient id="tb" x1="0" y1="0" x2="1" y2="1"><stop offset="0" stop-color="#3068e0"/><stop offset="1" stop-color="#0828b0"/></linearGradient><radialGradient id="badge" cx="0.35" cy="0.3" r="0.8"><stop offset="0" stop-color="#f86048"/><stop offset="1" stop-color="#d82010"/></radialGradient></defs>
<g id="toolbar" font-family="Liberation Sans, Noto Sans CJK SC, sans-serif">
<rect x="2" y="0" width="1" height="21" fill="#a0a0a0" shape-rendering="crispEdges"/>
<path d="M14.0,3.5 h6 l3.5,3.5 v8 a1.5,1.5 0 0 1 -1.5,1.5 h-8 a1.5,1.5 0 0 1 -1.5,-1.5 v-10 a1.5,1.5 0 0 1 1.5,-1.5 z" fill="#fff" stroke="#7a7a7a" stroke-width="1"/>
<path d="M20.0,3.5 v3.5 h3.5" fill="none" stroke="#7a7a7a" stroke-width="1"/>
<rect x="14" y="5" width="3" height="2" fill="#8a8a8a"/><rect x="14" y="9" width="6" height="1" fill="#8a8a8a"/><rect x="14" y="11" width="5" height="1" fill="#8a8a8a"/><rect x="14" y="13" width="3" height="1" fill="#8a8a8a"/>
<path d="M20.6,9.5 h2.8 v4.1 h4.1 v2.8 h-4.1 v4.1 h-2.8 v-4.1 h-4.1 v-2.8 h4.1 z" fill="url(#gplus)" stroke="#0c8c0c" stroke-width="1" stroke-linejoin="miter"/>
<text x="31" y="14.3" font-size="12" fill="#000" stroke="#000" stroke-width="0.3" textLength="36" lengthAdjust="spacingAndGlyphs">新订单</text>
<path d="M84.2,4.2 L94.4,10.4 L94.9,13.4 L87.2,18.9 L79,13 Q83,9.6 84.2,4.2 Z" fill="#c08a10" stroke="#8a5c04" stroke-width="0.8" stroke-linejoin="round"/>
<path d="M84.7,5.2 L93.6,10.6 L87.4,16.2 L80.6,12.2 Q83.8,9.4 84.7,5.2 Z" fill="url(#gold)"/>
<path d="M80.2,13.4 L87.2,17.6 L94.2,12.4" fill="none" stroke="#f4dc88" stroke-width="0.9"/>
<path d="M109,4.2 L113,3 L120,4.2 L120,12.5 L109,12.5 Z" fill="url(#srv)"/>
<path d="M109.6,4.4 L112.8,6.2 L112.8,12.5" fill="none" stroke="#e8f6ff" stroke-width="0.8"/><rect x="114.5" y="7.2" width="4" height="1.4" fill="#e8f6ff"/>
<path d="M108.8,18.4 C106.4,18.4 106.4,14.4 109.4,14.2 C109.6,12.4 112.4,11.8 113.6,12.8 C114.6,10.6 118.6,10.6 119.2,13 C122.2,12.6 123.8,15.6 122.2,17.4 C121.8,18.2 121,18.4 120,18.4 Z" fill="url(#cloud)" stroke="#4462a8" stroke-width="1"/>
<path d="M143,10.9 L143,19.1 A8.2,8.2 0 0 0 150.9,8.6 Z" fill="url(#wedge)"/>
<circle cx="143" cy="10.9" r="7.6" fill="none" stroke="url(#sig)" stroke-width="1.3" opacity="0.55"/>
<circle cx="143" cy="10.9" r="4.7" fill="none" stroke="url(#sig)" stroke-width="1.3" opacity="0.55"/>
<circle cx="143" cy="10.6" r="1.9" fill="#2858d8"/>
<rect x="142.7" y="11" width="1.3" height="8" fill="#18a018"/>
<path d="M162.6,10 L177.8,9.2 L170.6,19 L168.2,18.6 Z" fill="url(#face)" stroke="#c89808" stroke-width="0.9"/>
<ellipse cx="170.2" cy="7.6" rx="8" ry="3" fill="url(#hat)" stroke="#2880b8" stroke-width="0.9"/>
<path d="M166.2,7.4 a3.8,4.6 0 0 1 7.6,0 z" fill="url(#hat)" stroke="#2880b8" stroke-width="0.9"/>
<circle cx="174.6" cy="14.8" r="4.2" fill="url(#stop)"/><rect x="173.2" y="13.4" width="2.9" height="2.9" fill="#fff"/>
<text x="183.5" y="14.3" font-size="12" fill="#000" stroke="#000" stroke-width="0.3" textLength="46.5" lengthAdjust="spacingAndGlyphs">自动交易</text>
<rect x="238" y="0" width="1" height="21" fill="#a0a0a0" shape-rendering="crispEdges"/>
<rect x="241" y="2" width="4" height="1" fill="#b4b4b4" shape-rendering="crispEdges"/>
<rect x="241" y="4" width="4" height="1" fill="#b4b4b4" shape-rendering="crispEdges"/>
<rect x="241" y="6" width="4" height="1" fill="#b4b4b4" shape-rendering="crispEdges"/>
<rect x="241" y="8" width="4" height="1" fill="#b4b4b4" shape-rendering="crispEdges"/>
<rect x="241" y="10" width="4" height="1" fill="#b4b4b4" shape-rendering="crispEdges"/>
<rect x="241" y="12" width="4" height="1" fill="#b4b4b4" shape-rendering="crispEdges"/>
<rect x="241" y="14" width="4" height="1" fill="#b4b4b4" shape-rendering="crispEdges"/>
<rect x="241" y="16" width="4" height="1" fill="#b4b4b4" shape-rendering="crispEdges"/>
<rect x="241" y="18" width="4" height="1" fill="#b4b4b4" shape-rendering="crispEdges"/>
<g stroke="#505050" stroke-width="1.2" fill="#505050"><line x1="256.4" y1="6" x2="256.4" y2="18.8"/><line x1="253.99999999999997" y1="16.6" x2="266.4" y2="16.6"/><polygon points="256.4,4.8 254.7,7.6 258.09999999999997,7.6" stroke="none"/><polygon points="268.0,16.6 265.2,14.9 265.2,18.3" stroke="none"/></g>
<path d="M262.4,6.2 V14.7 M262.4,7.5 H265.2 M260,13.6 H262.4" fill="none" stroke="#008000" stroke-width="1.3"/>
<rect x="276" y="0" width="1" height="21" fill="#a0a0a0" shape-rendering="crispEdges"/>
<rect x="277" y="0" width="24" height="21" fill="#f9f9f9" shape-rendering="crispEdges"/>
<rect x="276" y="21" width="26" height="1" fill="#fff" shape-rendering="crispEdges"/>
<rect x="301" y="0" width="1" height="22" fill="#fff" shape-rendering="crispEdges"/>
<g stroke="#505050" stroke-width="1.2" fill="#505050"><line x1="284.5" y1="6" x2="284.5" y2="18.8"/><line x1="282.1" y1="16.6" x2="294.5" y2="16.6"/><polygon points="284.5,4.8 282.8,7.6 286.2,7.6" stroke="none"/><polygon points="296.1,16.6 293.3,14.9 293.3,18.3" stroke="none"/></g>
<line x1="290.5" y1="3.1" x2="290.5" y2="14.7" stroke="#008000" stroke-width="1.2"/><rect x="288.5" y="5.7" width="4" height="6.8" fill="#48e868" stroke="#009000" stroke-width="1"/>
<g stroke="#505050" stroke-width="1.2" fill="#505050"><line x1="312.4" y1="6" x2="312.4" y2="18.8"/><line x1="310.0" y1="16.6" x2="322.4" y2="16.6"/><polygon points="312.4,4.8 310.7,7.6 314.09999999999997,7.6" stroke="none"/><polygon points="324.0,16.6 321.2,14.9 321.2,18.3" stroke="none"/></g>
<path d="M311.1,13.7 C313.5,12.5 315,8.3 317.4,8.5 C319.5,8.7 320.5,11.5 322.8,12.1" fill="none" stroke="#208020" stroke-width="1.3"/>
<rect x="333" y="0" width="1" height="21" fill="#a0a0a0" shape-rendering="crispEdges"/>
<line x1="351.7" y1="13.2" x2="356.9" y2="18" stroke="#a87808" stroke-width="3.2" stroke-linecap="round"/><line x1="352.09999999999997" y1="13.6" x2="356.7" y2="17.8" stroke="#f0d030" stroke-width="1.6" stroke-linecap="round"/>
<circle cx="347.9" cy="9" r="5.7" fill="url(#lens)" stroke="#2e78c8" stroke-width="1.1"/>
<rect x="344.7" y="8.1" width="6.4" height="1.8" fill="#3a88b4"/>
<rect x="347.0" y="5.8" width="1.8" height="6.4" fill="#3a88b4"/>
<line x1="379.8" y1="13.2" x2="385" y2="18" stroke="#a87808" stroke-width="3.2" stroke-linecap="round"/><line x1="380.2" y1="13.6" x2="384.8" y2="17.8" stroke="#f0d030" stroke-width="1.6" stroke-linecap="round"/>
<circle cx="376" cy="9" r="5.7" fill="url(#lens)" stroke="#2e78c8" stroke-width="1.1"/>
<rect x="372.8" y="8.1" width="6.4" height="1.8" fill="#3a88b4"/>
<rect x="398" y="3" width="8" height="8" fill="url(#tg)"/><path d="M399.3,6 h5.4 v4 h-1 v-1 h-3.4 v1 h-1 z" fill="#fff"/><rect x="400.2" y="7" width="3.6" height="0.9" fill="#90d070"/><rect x="399.2" y="4.1" width="1" height="1" fill="#fff" opacity="0.8"/>
<rect x="406" y="3" width="8" height="8" fill="url(#tb)"/><path d="M407.3,6 h5.4 v4 h-1 v-1 h-3.4 v1 h-1 z" fill="#fff"/><rect x="408.2" y="7" width="3.6" height="0.9" fill="#80a0f0"/><rect x="407.2" y="4.1" width="1" height="1" fill="#fff" opacity="0.8"/>
<rect x="398" y="11" width="8" height="8" fill="url(#tb)"/><path d="M399.3,14 h5.4 v4 h-1 v-1 h-3.4 v1 h-1 z" fill="#fff"/><rect x="400.2" y="15" width="3.6" height="0.9" fill="#80a0f0"/><rect x="399.2" y="12.1" width="1" height="1" fill="#fff" opacity="0.8"/>
<rect x="406" y="11" width="8" height="8" fill="url(#tg)"/><path d="M407.3,14 h5.4 v4 h-1 v-1 h-3.4 v1 h-1 z" fill="#fff"/><rect x="408.2" y="15" width="3.6" height="0.9" fill="#90d070"/><rect x="407.2" y="12.1" width="1" height="1" fill="#fff" opacity="0.8"/>
<rect x="423" y="0" width="1" height="21" fill="#a0a0a0" shape-rendering="crispEdges"/>
<rect x="428" y="0" width="1" height="21" fill="#a0a0a0" shape-rendering="crispEdges"/>
<rect x="429" y="0" width="24" height="21" fill="#f9f9f9" shape-rendering="crispEdges"/>
<rect x="428" y="21" width="26" height="1" fill="#fff" shape-rendering="crispEdges"/>
<rect x="453" y="0" width="1" height="22" fill="#fff" shape-rendering="crispEdges"/>
<g stroke="#505050" stroke-width="1.2" fill="#505050"><line x1="436.6" y1="6" x2="436.6" y2="18.8"/><line x1="434.20000000000005" y1="16.6" x2="446.6" y2="16.6"/><polygon points="436.6,4.8 434.90000000000003,7.6 438.3,7.6" stroke="none"/><polygon points="448.20000000000005,16.6 445.40000000000003,14.9 445.40000000000003,18.3" stroke="none"/></g>
<polygon points="441.2,7 441.2,13 445.2,10" fill="#b8f0b8" stroke="#109010" stroke-width="1"/>
<rect x="456" y="0" width="1" height="21" fill="#a0a0a0" shape-rendering="crispEdges"/>
<rect x="457" y="0" width="24" height="21" fill="#f9f9f9" shape-rendering="crispEdges"/>
<rect x="456" y="21" width="26" height="1" fill="#fff" shape-rendering="crispEdges"/>
<rect x="481" y="0" width="1" height="22" fill="#fff" shape-rendering="crispEdges"/>
<g stroke="#505050" stroke-width="1.2" fill="#505050"><line x1="464.4" y1="6" x2="464.4" y2="18.8"/><line x1="462.0" y1="16.6" x2="474.4" y2="16.6"/><polygon points="464.4,4.8 462.7,7.6 466.09999999999997,7.6" stroke="none"/><polygon points="476.0,16.6 473.2,14.9 473.2,18.3" stroke="none"/></g>
<rect x="470" y="5" width="1.2" height="9.5" fill="#1060c0"/><path d="M472,10 h4.4 M472,10 l2.3,-2 M472,10 l2.3,2" stroke="#d03000" stroke-width="1.1" fill="none"/>
<rect x="485" y="0" width="1" height="21" fill="#a0a0a0" shape-rendering="crispEdges"/>
<path d="M497.0,3.5 h6 l3.5,3.5 v8 a1.5,1.5 0 0 1 -1.5,1.5 h-8 a1.5,1.5 0 0 1 -1.5,-1.5 v-10 a1.5,1.5 0 0 1 1.5,-1.5 z" fill="#fff" stroke="#7a7a7a" stroke-width="1"/>
<path d="M503.0,3.5 v3.5 h3.5" fill="none" stroke="#7a7a7a" stroke-width="1"/>
<text x="497.3" y="12.5" font-size="9" font-style="italic" font-family="Liberation Serif, serif" fill="#555">f</text>
<path d="M503.6,9.5 h2.8 v4.1 h4.1 v2.8 h-4.1 v4.1 h-2.8 v-4.1 h-4.1 v-2.8 h4.1 z" fill="url(#gplus)" stroke="#0c8c0c" stroke-width="1" stroke-linejoin="miter"/>
<polygon points="517,10 522.6,10 519.8,12.8" fill="#000"/>
<circle cx="541" cy="11" r="6.9" fill="#fff" stroke="url(#clock)" stroke-width="2.8"/><path d="M541,6.8 V11.4 H544.2" fill="none" stroke="#606060" stroke-width="1.1"/>
<g fill="#a0a8b8"><rect x="540.6" y="4.8" width="0.8" height="1"/><rect x="540.6" y="16.2" width="0.8" height="1"/><rect x="534.8" y="10.6" width="1" height="0.8"/><rect x="546.2" y="10.6" width="1" height="0.8"/></g>
<polygon points="556,10 561.6,10 558.8,12.8" fill="#000"/>
<rect x="572.6" y="4.6" width="15" height="13.4" fill="#fff" stroke="#3070d0" stroke-width="1.3"/><rect x="572" y="4" width="16.2" height="2.4" fill="#3878e0"/><rect x="573.2" y="11" width="13.8" height="0.9" fill="#5890e0"/>
<path d="M574.6,9.6 l2.4,-0.8 l2,0.4 l2.2,-1.2 l2,0.6 l2.4,-1.4" fill="none" stroke="#c02000" stroke-width="1"/><path d="M574.6,15.6 l2.4,-1 l2,0.8 l2.2,-1.6 l2,1.4 l2.4,-0.6" fill="none" stroke="#108030" stroke-width="1"/>
<polygon points="594.6,10 600.2,10 597.4,12.8" fill="#000"/>
<rect x="606" y="0" width="1" height="21" fill="#a0a0a0" shape-rendering="crispEdges"/>
<rect x="609" y="2" width="4" height="1" fill="#b4b4b4" shape-rendering="crispEdges"/>
<rect x="609" y="4" width="4" height="1" fill="#b4b4b4" shape-rendering="crispEdges"/>
<rect x="609" y="6" width="4" height="1" fill="#b4b4b4" shape-rendering="crispEdges"/>
<rect x="609" y="8" width="4" height="1" fill="#b4b4b4" shape-rendering="crispEdges"/>
<rect x="609" y="10" width="4" height="1" fill="#b4b4b4" shape-rendering="crispEdges"/>
<rect x="609" y="12" width="4" height="1" fill="#b4b4b4" shape-rendering="crispEdges"/>
<rect x="609" y="14" width="4" height="1" fill="#b4b4b4" shape-rendering="crispEdges"/>
<rect x="609" y="16" width="4" height="1" fill="#b4b4b4" shape-rendering="crispEdges"/>
<rect x="609" y="18" width="4" height="1" fill="#b4b4b4" shape-rendering="crispEdges"/>
<rect x="616" y="0" width="1" height="21" fill="#a0a0a0" shape-rendering="crispEdges"/>
<rect x="617" y="0" width="24" height="21" fill="#f9f9f9" shape-rendering="crispEdges"/>
<rect x="616" y="21" width="26" height="1" fill="#fff" shape-rendering="crispEdges"/>
<rect x="641" y="0" width="1" height="22" fill="#fff" shape-rendering="crispEdges"/>
<path d="M624.2,3.6 L624.2,15.4 L627,12.8 L629.2,18.2 L631,17.4 L628.8,12.2 L632.4,12.2 Z" fill="#404040"/>
<path d="M656.4,4 V9.8 M656.4,13.2 V19 M648.9,11.5 H654.7 M658.1,11.5 H663.9" stroke="#404040" stroke-width="1.1" fill="none"/>
<rect x="673" y="0" width="1" height="21" fill="#a0a0a0" shape-rendering="crispEdges"/>
<rect x="690" y="5.3" width="1.2" height="12.5" fill="#404040"/>
<rect x="712.8" y="11" width="12.4" height="1.2" fill="#404040"/>
<line x1="740.3" y1="17.8" x2="753.1" y2="5.9" stroke="#404040" stroke-width="1.2"/>
<g stroke="#404040" stroke-width="1" fill="none"><line x1="767" y1="12.6" x2="780" y2="3.8"/><line x1="768" y1="17.4" x2="781" y2="8.6"/><line x1="770.5" y1="10.2" x2="769.8" y2="16.2"/><line x1="773.5" y1="8.2" x2="772.8" y2="14.2"/><line x1="776.5" y1="6.2" x2="775.8" y2="12.2"/><line x1="779.3" y1="4.2" x2="778.6" y2="10.2"/></g>
<text x="777.6" y="19.6" font-size="7" font-weight="bold" fill="#404040">E</text>
<line x1="795" y1="4.5" x2="809" y2="4.5" stroke="#505050" stroke-width="1" stroke-dasharray="1,1" shape-rendering="crispEdges"/>
<line x1="795" y1="7.5" x2="809" y2="7.5" stroke="#505050" stroke-width="1" stroke-dasharray="1,1" shape-rendering="crispEdges"/>
<line x1="795" y1="11.5" x2="809" y2="11.5" stroke="#505050" stroke-width="1" stroke-dasharray="1,1" shape-rendering="crispEdges"/>
<line x1="795" y1="15.5" x2="805" y2="15.5" stroke="#505050" stroke-width="1" stroke-dasharray="1,1" shape-rendering="crispEdges"/>
<text x="805.6" y="19.8" font-size="7" font-weight="bold" fill="#404040">F</text>
<text x="826.6" y="16" font-size="12.5" fill="#404040" stroke="#404040" stroke-width="0.4" textLength="8.2" lengthAdjust="spacingAndGlyphs">A</text>
<rect x="852.5" y="4.5" width="13" height="13" fill="none" stroke="#505050" stroke-width="1" stroke-dasharray="1,1" shape-rendering="crispEdges"/><rect x="852" y="4.2" width="1.6" height="1.6" fill="#404040"/>
<text x="855.2" y="16" font-size="11" font-weight="bold" fill="#404040" textLength="7.4" lengthAdjust="spacingAndGlyphs">T</text>
<polygon points="880,8 883,5 886,8 883,11" fill="#404040"/><polygon points="888,15 891,12 894,15 891,18" fill="#404040"/><path d="M882.6,12.4 l2.4,3 l4.6,-6" fill="none" stroke="#404040" stroke-width="1.4"/>
<polygon points="901,10 906.6,10 903.8,12.8" fill="#000"/>
<rect x="912" y="0" width="1" height="21" fill="#a0a0a0" shape-rendering="crispEdges"/>
<rect x="916" y="2" width="4" height="1" fill="#b4b4b4" shape-rendering="crispEdges"/>
<rect x="916" y="4" width="4" height="1" fill="#b4b4b4" shape-rendering="crispEdges"/>
<rect x="916" y="6" width="4" height="1" fill="#b4b4b4" shape-rendering="crispEdges"/>
<rect x="916" y="8" width="4" height="1" fill="#b4b4b4" shape-rendering="crispEdges"/>
<rect x="916" y="10" width="4" height="1" fill="#b4b4b4" shape-rendering="crispEdges"/>
<rect x="916" y="12" width="4" height="1" fill="#b4b4b4" shape-rendering="crispEdges"/>
<rect x="916" y="14" width="4" height="1" fill="#b4b4b4" shape-rendering="crispEdges"/>
<rect x="916" y="16" width="4" height="1" fill="#b4b4b4" shape-rendering="crispEdges"/>
<rect x="916" y="18" width="4" height="1" fill="#b4b4b4" shape-rendering="crispEdges"/>
<text x="927.7" y="15" font-family="DejaVu Sans Condensed, Liberation Sans, sans-serif" font-size="9.4" fill="#303030" stroke="#303030" stroke-width="0.2" textLength="12.6" lengthAdjust="spacingAndGlyphs">M1</text>
<text x="955.7" y="15" font-family="DejaVu Sans Condensed, Liberation Sans, sans-serif" font-size="9.4" fill="#303030" stroke="#303030" stroke-width="0.2" textLength="12.5" lengthAdjust="spacingAndGlyphs">M5</text>
<text x="981.5" y="15" font-family="DejaVu Sans Condensed, Liberation Sans, sans-serif" font-size="9.4" fill="#303030" stroke="#303030" stroke-width="0.2" textLength="17.4" lengthAdjust="spacingAndGlyphs">M15</text>
<text x="1009.4" y="15" font-family="DejaVu Sans Condensed, Liberation Sans, sans-serif" font-size="9.4" fill="#303030" stroke="#303030" stroke-width="0.2" textLength="18.3" lengthAdjust="spacingAndGlyphs">M30</text>
<text x="1040.6" y="15" font-family="DejaVu Sans Condensed, Liberation Sans, sans-serif" font-size="9.4" fill="#303030" stroke="#303030" stroke-width="0.2" textLength="11.6" lengthAdjust="spacingAndGlyphs">H1</text>
<rect x="1062" y="0" width="1" height="21" fill="#a0a0a0" shape-rendering="crispEdges"/>
<rect x="1063" y="0" width="24" height="21" fill="#f9f9f9" shape-rendering="crispEdges"/>
<rect x="1062" y="21" width="26" height="1" fill="#fff" shape-rendering="crispEdges"/>
<rect x="1087" y="0" width="1" height="22" fill="#fff" shape-rendering="crispEdges"/>
<text x="1067.6" y="15" font-family="DejaVu Sans Condensed, Liberation Sans, sans-serif" font-size="9.4" fill="#303030" stroke="#303030" stroke-width="0.2" textLength="12.4" lengthAdjust="spacingAndGlyphs">H4</text>
<text x="1096.6" y="15" font-family="DejaVu Sans Condensed, Liberation Sans, sans-serif" font-size="9.4" fill="#303030" stroke="#303030" stroke-width="0.2" textLength="11.4" lengthAdjust="spacingAndGlyphs">D1</text>
<text x="1124" y="15" font-family="DejaVu Sans Condensed, Liberation Sans, sans-serif" font-size="9.4" fill="#303030" stroke="#303030" stroke-width="0.2" textLength="13.8" lengthAdjust="spacingAndGlyphs">W1</text>
<text x="1150.8" y="15" font-family="DejaVu Sans Condensed, Liberation Sans, sans-serif" font-size="9.4" fill="#303030" stroke="#303030" stroke-width="0.2" textLength="14.5" lengthAdjust="spacingAndGlyphs">MN</text>
<rect x="1173" y="0" width="1" height="21" fill="#a0a0a0" shape-rendering="crispEdges"/>
<line x1="1636.4" y1="15.8" x2="1641" y2="11.2" stroke="#2858c8" stroke-width="2.2" stroke-linecap="round"/><circle cx="1643.2" cy="8.6" r="3.6" fill="#f4f8ff" stroke="#2858c8" stroke-width="1.4"/>
<path d="M1660.5,13.5 a5.5,4.2 0 1 1 4.5,4.1 l-2.6,1.8 l0.6,-2.6 a5,4 0 0 1 -2.5,-3.3 z" fill="#f8f8f8" stroke="#b0b0b0" stroke-width="0.9"/>
<circle cx="1674.3" cy="8.3" r="8.3" fill="url(#badge)"/>
<text x="1674.2" y="12.4" font-size="11.5" fill="#fff" stroke="#fff" stroke-width="0.3" text-anchor="middle">1</text>
</g>
</svg>
</body></html>
